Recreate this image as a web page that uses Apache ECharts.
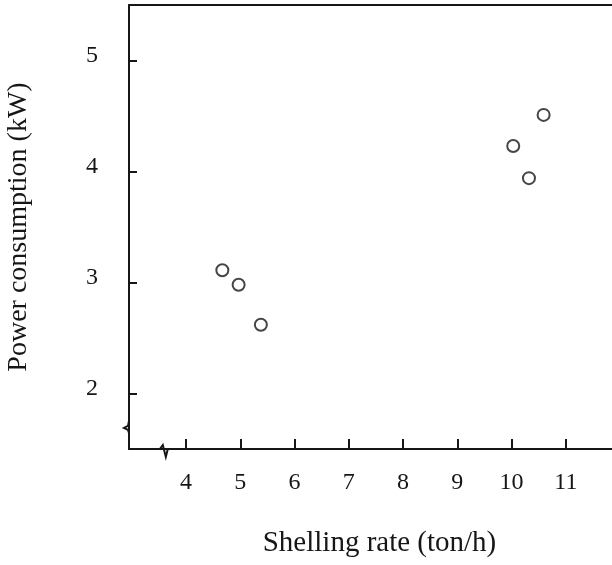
<!DOCTYPE html>
<html>
<head>
<meta charset="utf-8">
<script src="https://cdn.jsdelivr.net/npm/echarts@6/dist/echarts.min.js"></script>
<style>
  html, body { margin: 0; padding: 0; background: #fff; }
  #chart { width: 612px; height: 565px; }
</style>
</head>
<body>
<div id="chart"></div>
<script>
// shelling rate (ton/h) vs power consumption (kW)
var shellingRate = [4.67, 4.97, 5.38, 10.03, 10.32, 10.59];
var powerUse = [3.11, 2.98, 2.62, 4.23, 3.94, 4.51];
var xTicks = [4, 5, 6, 7, 8, 9, 10, 11];
var yTicks = [2, 3, 4, 5];

var ink = '#161616';
var font = 'Liberation Serif';

var dom = document.getElementById('chart');
var myChart = echarts.init(dom);

var points = [];
for (var i = 0; i < shellingRate.length; i++) {
    points.push([shellingRate[i], powerUse[i]]);
}

var option = {
    animation: false,
    backgroundColor: '#fff',
    grid: { left: 129, top: 5, right: 0, bottom: 116, containLabel: false, outerBoundsMode: 'none' },
    xAxis: [{
        type: 'value',
        min: 2.95,
        max: 11.85,
        name: 'Shelling rate (ton/h)',
        nameLocation: 'middle',
        nameGap: 80,
        nameTextStyle: { color: ink, fontFamily: font, fontSize: 29, padding: [0, 0, 0, 18] },
        splitLine: { show: false },
        axisLine: { lineStyle: { color: ink, width: 2 } },
        axisTick: {
            inside: true, length: 10,
            customValues: xTicks,
            lineStyle: { color: ink, width: 2 }
        },
        axisLabel: {
            customValues: xTicks,
            color: ink, fontFamily: font, fontSize: 24, margin: 22
        }
    }, {
        type: 'value',
        position: 'top',
        min: 2.95,
        max: 11.85,
        splitLine: { show: false },
        axisLine: { show: true, lineStyle: { color: ink, width: 2 } },
        axisTick: { show: false },
        axisLabel: { show: false }
    }],
    yAxis: {
        type: 'value',
        min: 1.5,
        max: 5.5,
        name: 'Power consumption (kW)',
        nameLocation: 'middle',
        nameGap: 96,
        nameTextStyle: { color: ink, fontFamily: font, fontSize: 28 },
        splitLine: { show: false },
        axisLine: { show: true, lineStyle: { color: ink, width: 2 } },
        axisTick: {
            inside: true, length: 8,
            customValues: yTicks,
            lineStyle: { color: ink, width: 2 }
        },
        axisLabel: {
            customValues: yTicks,
            margin: 31,
            formatter: function (v) { return '{n|' + v + '}'; },
            rich: {
                n: { color: ink, fontFamily: font, fontSize: 24, padding: [0, 0, 9, 0] }
            }
        }
    },
    series: [{
        type: 'scatter',
        data: points,
        symbol: 'circle',
        symbolSize: 12,
        itemStyle: { color: 'transparent', borderColor: ink, borderWidth: 2 }
    }]
};

myChart.setOption(option);

// axis break marks, placed through the axes
var yb = myChart.convertToPixel({ xAxisIndex: 0, yAxisIndex: 0 }, [2.95, 1.69]);
var xb = myChart.convertToPixel({ xAxisIndex: 0, yAxisIndex: 0 }, [3.61, 1.5]);
myChart.setOption({
    graphic: [{
        type: 'polyline',
        shape: { points: [[yb[0], yb[1] - 7], [yb[0] - 1, yb[1] - 2], [yb[0] - 5, yb[1]], [yb[0] - 1, yb[1] + 2], [yb[0], yb[1] + 5]] },
        style: { stroke: ink, lineWidth: 2, fill: null }
    }, {
        type: 'polyline',
        shape: { points: [[xb[0] - 5, xb[1]], [xb[0] - 2, xb[1] - 4], [xb[0] + 1, xb[1] + 8], [xb[0] + 3, xb[1]]] },
        style: { stroke: ink, lineWidth: 2, fill: null }
    }]
});
</script>
</body>
</html>
